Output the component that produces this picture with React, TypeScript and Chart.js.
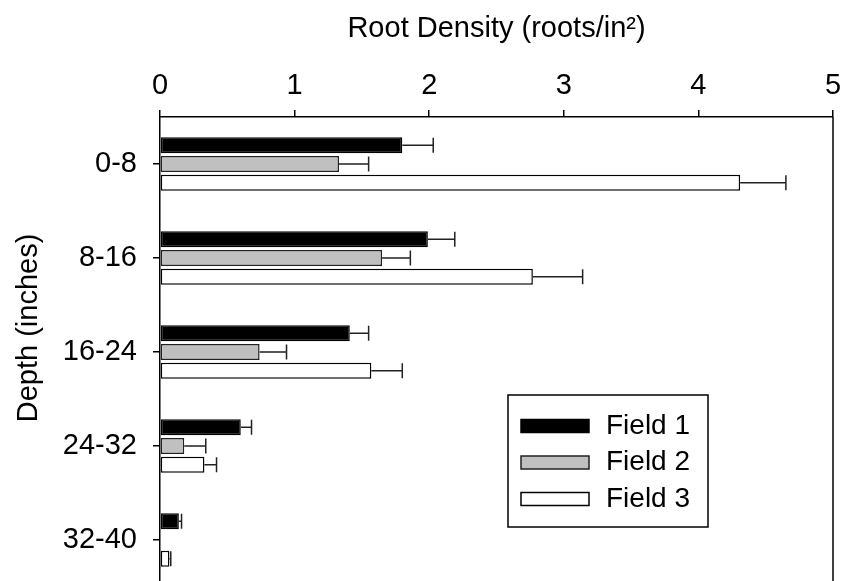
import React, { useEffect, useRef } from "react";
import { Chart, registerables } from "chart.js";

Chart.register(...registerables);

const categories = ["0-8", "8-16", "16-24", "24-32", "32-40"];
const seriesNames = ["Field 1", "Field 2", "Field 3"];
const field1 = [1.8, 1.99, 1.41, 0.6, 0.14];
const field1Err = [0.23, 0.2, 0.14, 0.08, 0.02];
const field2 = [1.33, 1.65, 0.74, 0.18, 0];
const field2Err = [0.22, 0.21, 0.2, 0.16, 0];
const field3 = [4.31, 2.77, 1.57, 0.33, 0.07];
const field3Err = [0.34, 0.37, 0.23, 0.09, 0.01];
const xTicks = [0, 1, 2, 3, 4, 5];
const xTitle = "Root Density (roots/in\u00B2)";
const yTitle = "Depth (inches)";

const FONT = "'Liberation Sans', Arial, Helvetica, sans-serif";

const errorBarPlugin = {
  id: "errorBars",
  afterDatasetsDraw(chart: any) {
    const ctx = chart.ctx;
    const xs = chart.scales.x;
    chart.data.datasets.forEach((ds: any, i: number) => {
      const meta = chart.getDatasetMeta(i);
      meta.data.forEach((bar: any, j: number) => {
        const e = ds.errors[j];
        if (!e) return;
        const v = ds.data[j];
        const { y, height } = bar.getProps(["y", "height"], true);
        const x0 = xs.getPixelForValue(v);
        const x1 = xs.getPixelForValue(v + e);
        ctx.save();
        ctx.strokeStyle = "#222";
        ctx.lineWidth = 1.5;
        ctx.beginPath();
        ctx.moveTo(x0, y);
        ctx.lineTo(x1, y);
        ctx.moveTo(x1, y - height / 2 + 0.5);
        ctx.lineTo(x1, y + height / 2 - 0.5);
        ctx.stroke();
        ctx.restore();
      });
    });
  },
};

const framePlugin = {
  id: "frameExtras",
  afterDraw(chart: any) {
    const ctx = chart.ctx;
    const ca = chart.chartArea;
    ctx.save();
    // right border
    ctx.strokeStyle = "#000";
    ctx.lineWidth = 1.5;
    ctx.beginPath();
    ctx.moveTo(ca.right, ca.top);
    ctx.lineTo(ca.right, ca.bottom);
    ctx.stroke();

    // y axis title
    ctx.fillStyle = "#000";
    ctx.font = `29px ${FONT}`;
    ctx.translate(37, ca.top + 211);
    ctx.rotate(-Math.PI / 2);
    ctx.textAlign = "center";
    ctx.textBaseline = "alphabetic";
    ctx.fillText(yTitle, 0, 0);
    ctx.restore();

    // legend
    ctx.save();
    const left = ca.left + 348;
    const top = ca.top + 278;
    const w = 200;
    const h = 132;
    ctx.fillStyle = "#fff";
    ctx.fillRect(left, top, w, h);
    ctx.strokeStyle = "#000";
    ctx.lineWidth = 1.5;
    ctx.strokeRect(left, top, w, h);
    chart.data.datasets.forEach((ds: any, i: number) => {
      const cy = top + 31 + i * 36.5;
      ctx.fillStyle = ds.backgroundColor;
      ctx.fillRect(left + 13, cy - 6.5, 68, 13);
      ctx.strokeStyle = ds.borderColor;
      ctx.lineWidth = 1.5;
      ctx.strokeRect(left + 13, cy - 6.5, 68, 13);
      ctx.fillStyle = "#000";
      ctx.font = `28px ${FONT}`;
      ctx.textAlign = "left";
      ctx.textBaseline = "middle";
      ctx.fillText(ds.label, left + 98, cy);
    });
    ctx.restore();
  },
};

export default function App() {
  const ref = useRef<HTMLCanvasElement | null>(null);

  useEffect(() => {
    if (!ref.current) return;
    const mk = (label: string, data: number[], errors: number[], bg: string, border: string) => ({
      label,
      data,
      errors,
      backgroundColor: bg,
      borderColor: border,
      borderWidth: 1.5,
      borderSkipped: false,
      categoryPercentage: 0.6,
      barPercentage: 0.85,
    });
    const chart = new Chart(ref.current, {
      type: "bar",
      data: {
        labels: categories,
        datasets: [
          mk(seriesNames[0], field1, field1Err, "#000000", "#000000"),
          mk(seriesNames[1], field2, field2Err, "#c0c0c0", "#222222"),
          mk(seriesNames[2], field3, field3Err, "#ffffff", "#000000"),
        ] as any,
      },
      options: {
        indexAxis: "y",
        responsive: false,
        animation: false,
        layout: { padding: { left: 0, right: 12, top: 0, bottom: 13 } },
        plugins: { legend: { display: false }, tooltip: { enabled: false } },
        scales: {
          x: {
            position: "top",
            min: xTicks[0],
            max: xTicks[xTicks.length - 1],
            ticks: {
              stepSize: 1,
              color: "#000",
              font: { family: FONT, size: 29 },
              padding: 7,
            },
            grid: {
              drawOnChartArea: false,
              drawTicks: true,
              tickLength: 7,
              color: "#000",
              lineWidth: 1.5,
            },
            border: { display: true, color: "#000", width: 1.5 },
            title: {
              display: true,
              text: xTitle,
              color: "#000",
              font: { family: FONT, size: 29 },
              padding: { top: 12, bottom: 0 },
            },
            afterFit: (s: any) => {
              s.height = 117;
              s.paddingLeft = 0;
              s.paddingRight = 0;
            },
          },
          y: {
            ticks: {
              color: "#000",
              font: { family: FONT, size: 29 },
              padding: 16,
            },
            grid: {
              offset: false,
              drawOnChartArea: false,
              drawTicks: true,
              tickLength: 7,
              color: "#000",
              lineWidth: 1.5,
            },
            border: { display: true, color: "#000", width: 1.5 },
            afterFit: (s: any) => {
              s.width = 160;
              s.paddingTop = 0;
              s.paddingBottom = 0;
            },
          },
        },
      } as any,
      plugins: [errorBarPlugin, framePlugin],
    });
    return () => chart.destroy();
  }, []);

  return (
    <div
      style={{
        position: "fixed",
        left: 0,
        top: 0,
        width: 845,
        height: 581,
        overflow: "hidden",
        background: "#fff",
      }}
    >
      <canvas ref={ref} width={845} height={600} style={{ display: "block" }} />
    </div>
  );
}
